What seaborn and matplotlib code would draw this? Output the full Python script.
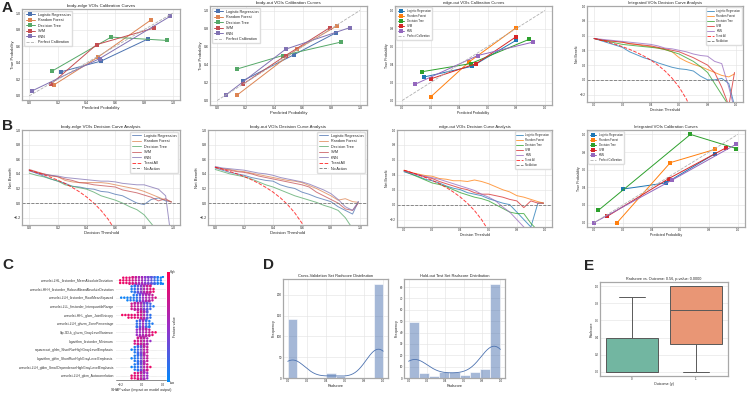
import numpy as np
import pandas as pd
import matplotlib
matplotlib.use("Agg")
import matplotlib.pyplot as plt
import seaborn as sns
from matplotlib.colors import LinearSegmentedColormap
from matplotlib.cm import ScalarMappable

W, H = 747, 394

models = ["Logistic Regression", "Random Forest", "Decision Tree", "SVM", "KNN"]

# ---- calibration curves (predicted prob, true prob) per model ----
cal_be_pred = [[0.22, 0.50, 0.83], [0.17, 0.48, 0.85], [0.16, 0.57, 0.96], [0.15, 0.47, 0.87], [0.02, 0.49, 0.98]]
cal_be_true = [[0.29, 0.42, 0.69], [0.13, 0.47, 0.92], [0.30, 0.71, 0.67], [0.14, 0.62, 0.82], [0.06, 0.45, 0.96]]
cal_bo_pred = [[0.18, 0.54, 0.83], [0.14, 0.56, 0.84], [0.14, 0.46, 0.87], [0.18, 0.48, 0.79], [0.06, 0.48, 0.93]]
cal_bo_true = [[0.22, 0.51, 0.75], [0.06, 0.57, 0.83], [0.35, 0.50, 0.65], [0.18, 0.50, 0.81], [0.06, 0.57, 0.81]]
cal_eo_pred = [[0.15, 0.49, 0.80], [0.20, 0.47, 0.80], [0.14, 0.48, 0.89], [0.20, 0.52, 0.80], [0.09, 0.53, 0.92]]
cal_eo_true = [[0.26, 0.38, 0.67], [0.04, 0.43, 0.81], [0.32, 0.41, 0.68], [0.24, 0.41, 0.71], [0.18, 0.50, 0.65]]
cal_int_pred = [[0.20, 0.50, 0.84], [0.16, 0.53, 0.84], [0.03, 0.67, 0.99], [0.09, 0.52, 0.92], [0.00, 0.54, 0.99]]
cal_int_true = [[0.38, 0.45, 0.78], [0.00, 0.68, 0.83], [0.14, 1.00, 0.84], [0.07, 0.50, 0.85], [0.00, 0.48, 0.89]]

# ---- decision curves: net benefit at thresholds ----
thr = [0.0, 0.05, 0.10, 0.15, 0.20, 0.25, 0.30, 0.35, 0.40, 0.45, 0.50,
       0.55, 0.60, 0.65, 0.70, 0.75, 0.80, 0.85, 0.90, 0.95, 0.99]
thr_all = [0.0, 0.05, 0.10, 0.15, 0.20, 0.25, 0.30, 0.35, 0.40, 0.45, 0.50, 0.55, 0.60, 0.65, 0.70]

dca_be = [
    [0.45, 0.41, 0.37, 0.33, 0.30, 0.27, 0.23, 0.22, 0.20, 0.19, 0.16, 0.15, 0.12, 0.10, 0.05, 0.00, -0.02, 0.05, 0.07, 0.03, 0.02],
    [0.45, 0.42, 0.40, 0.37, 0.36, 0.31, 0.29, 0.28, 0.28, 0.28, 0.28, 0.27, 0.25, 0.23, 0.21, 0.19, 0.16, 0.12, 0.08, 0.04, 0.02],
    [0.41, 0.38, 0.36, 0.33, 0.30, 0.25, 0.23, 0.21, 0.19, 0.15, 0.10, 0.07, 0.04, 0.00, -0.05, -0.09, -0.16, -0.28, -0.40, -0.50, -0.60],
    [0.46, 0.43, 0.40, 0.38, 0.36, 0.33, 0.31, 0.28, 0.27, 0.25, 0.24, 0.23, 0.22, 0.18, 0.16, 0.14, 0.11, 0.08, 0.03, 0.06, 0.01],
    [0.44, 0.41, 0.39, 0.38, 0.37, 0.35, 0.34, 0.33, 0.32, 0.31, 0.30, 0.30, 0.29, 0.27, 0.26, 0.25, 0.25, 0.22, 0.19, 0.10, -0.50],
]
all_be = [0.45, 0.421, 0.389, 0.353, 0.313, 0.267, 0.214, 0.154, 0.083, 0.0, -0.10, -0.222, -0.375, -0.571, -0.833]

dca_bo = [
    [0.48, 0.45, 0.42, 0.40, 0.38, 0.35, 0.33, 0.31, 0.30, 0.25, 0.22, 0.20, 0.15, 0.12, 0.08, 0.05, 0.02, -0.05, -0.10, -0.15, 0.02],
    [0.49, 0.47, 0.46, 0.44, 0.43, 0.41, 0.39, 0.37, 0.35, 0.33, 0.31, 0.30, 0.28, 0.24, 0.20, 0.15, 0.10, 0.04, 0.06, 0.02, 0.01],
    [0.46, 0.43, 0.40, 0.38, 0.36, 0.33, 0.29, 0.25, 0.22, 0.18, 0.14, 0.10, 0.07, 0.04, 0.01, -0.03, -0.06, -0.10, -0.20, -0.35, -0.50],
    [0.49, 0.47, 0.45, 0.43, 0.42, 0.40, 0.37, 0.35, 0.33, 0.31, 0.29, 0.27, 0.25, 0.22, 0.15, 0.10, 0.05, 0.00, -0.08, -0.10, 0.00],
    [0.50, 0.48, 0.47, 0.46, 0.45, 0.43, 0.41, 0.40, 0.38, 0.35, 0.33, 0.31, 0.29, 0.26, 0.22, 0.18, 0.13, 0.05, -0.05, -0.10, 0.02],
]
all_bo = [0.49, 0.463, 0.433, 0.40, 0.363, 0.32, 0.271, 0.215, 0.15, 0.073, -0.02, -0.133, -0.275, -0.457, -0.70]

dca_eo = [
    [0.44, 0.41, 0.38, 0.34, 0.32, 0.29, 0.25, 0.22, 0.20, 0.16, 0.14, 0.12, 0.08, 0.05, 0.02, 0.00, -0.10, -0.20, -0.30, 0.02, 0.02],
    [0.46, 0.43, 0.41, 0.39, 0.38, 0.35, 0.34, 0.32, 0.32, 0.31, 0.33, 0.31, 0.28, 0.24, 0.20, 0.17, 0.12, 0.10, 0.07, 0.04, 0.02],
    [0.45, 0.41, 0.37, 0.33, 0.29, 0.27, 0.24, 0.20, 0.16, 0.13, 0.10, 0.08, 0.05, 0.00, -0.05, -0.10, -0.12, -0.12, -0.25, -0.35, -0.50],
    [0.46, 0.43, 0.40, 0.37, 0.35, 0.31, 0.28, 0.25, 0.22, 0.20, 0.16, 0.14, 0.14, 0.12, 0.10, 0.07, 0.05, -0.04, 0.05, 0.02, 0.02],
    [0.45, 0.42, 0.40, 0.38, 0.36, 0.34, 0.31, 0.28, 0.25, 0.22, 0.19, 0.14, 0.10, 0.05, -0.03, -0.10, -0.20, -0.30, -0.40, -0.50, -0.60],
]
all_eo = [0.46, 0.432, 0.40, 0.365, 0.325, 0.28, 0.229, 0.169, 0.10, 0.018, -0.08, -0.20, -0.35, -0.54, -0.80]

dca_int = [
    [0.56, 0.53, 0.50, 0.47, 0.44, 0.38, 0.34, 0.30, 0.27, 0.23, 0.20, 0.17, 0.15, 0.14, 0.12, 0.05, 0.00, 0.00, 0.02, -0.05, -0.35],
    [0.56, 0.54, 0.53, 0.52, 0.51, 0.49, 0.48, 0.46, 0.45, 0.43, 0.41, 0.38, 0.30, 0.25, 0.21, 0.18, 0.14, 0.10, 0.06, 0.04, 0.08],
    [0.56, 0.54, 0.52, 0.50, 0.48, 0.47, 0.46, 0.45, 0.44, 0.43, 0.41, 0.38, 0.35, 0.30, 0.25, 0.18, 0.10, -0.05, -0.20, -0.35, -0.50],
    [0.56, 0.54, 0.53, 0.52, 0.51, 0.49, 0.48, 0.47, 0.46, 0.44, 0.42, 0.40, 0.38, 0.34, 0.30, 0.25, 0.20, 0.10, -0.10, -0.35, 0.10],
    [0.56, 0.55, 0.54, 0.53, 0.52, 0.51, 0.50, 0.49, 0.48, 0.46, 0.43, 0.42, 0.40, 0.38, 0.35, 0.33, 0.32, 0.25, 0.22, -0.10, -0.40],
]
all_int = [0.56, 0.537, 0.511, 0.482, 0.45, 0.413, 0.371, 0.323, 0.267, 0.20, 0.12, 0.022, -0.10, -0.257, -0.467]

# ---- SHAP summary ----
shap_features = [
    "wavelet-LHL_firstorder_MeanAbsoluteDeviation",
    "wavelet-HHH_firstorder_RobustMeanAbsoluteDeviation",
    "wavelet-LLH_firstorder_RootMeanSquared",
    "wavelet-LLL_firstorder_InterquartileRange",
    "wavelet-HHL_glcm_JointEntropy",
    "wavelet-LLH_glszm_ZonePercentage",
    "lbp-3D-k_glszm_GrayLevelVariance",
    "logarithm_firstorder_Minimum",
    "squareroot_glrlm_ShortRunHighGrayLevelEmphasis",
    "logarithm_glrlm_ShortRunHighGrayLevelEmphasis",
    "wavelet-LLH_gldm_SmallDependenceHighGrayLevelEmphasis",
    "wavelet-LLH_glcm_Autocorrelation",
]
shap_vals = [
    [-0.21, -0.18, -0.15, -0.12, -0.09, -0.06, -0.03, 0.0, 0.03, 0.06, 0.09, 0.12, 0.15, 0.18, 0.2],
    [-0.1, -0.07, -0.04, -0.01, 0.02, 0.05, 0.08, 0.11],
    [-0.2, -0.17, -0.14, -0.11, -0.08, -0.05, -0.02, 0.01, 0.04, 0.07, 0.1, 0.13],
    [-0.1, -0.07, -0.04, -0.01, 0.02, 0.05, 0.08, 0.11],
    [-0.19, -0.16, -0.13, -0.1, -0.07, -0.04, -0.01, 0.02, 0.05, 0.08],
    [-0.05, -0.02, 0.01, 0.04, 0.07, 0.1],
    [-0.05, -0.02, 0.01, 0.04, 0.07, 0.1, 0.13],
    [-0.07, -0.04, -0.01, 0.02, 0.05, 0.08],
    [-0.1, -0.07, -0.04, -0.01, 0.02, 0.05],
    [-0.1, -0.07, -0.04, -0.01, 0.02, 0.05],
    [-0.1, -0.07, -0.04, -0.01, 0.02, 0.05, 0.08],
    [-0.1, -0.07, -0.04, -0.01, 0.02, 0.05],
]
shap_counts = [
    [2, 3, 3, 4, 5, 6, 6, 6, 7, 7, 7, 6, 5, 4, 2],
    [3, 5, 6, 6, 7, 6, 5, 2],
    [1, 1, 2, 2, 3, 4, 5, 7, 7, 6, 3, 1],
    [3, 5, 6, 7, 7, 5, 3, 1],
    [1, 1, 2, 2, 2, 3, 6, 7, 5, 2],
    [4, 6, 7, 6, 4, 1],
    [3, 6, 7, 6, 4, 2, 1],
    [2, 5, 7, 7, 4, 1],
    [1, 3, 5, 6, 7, 3],
    [1, 3, 5, 7, 7, 3],
    [1, 3, 5, 6, 7, 4, 1],
    [2, 3, 4, 7, 7, 3],
]
shap_fvals = [
    [0.95, 0.9, 0.9, 0.85, 0.8, 0.7, 0.6, 0.55, 0.45, 0.4, 0.3, 0.2, 0.1, 0.05, 0.05],
    [0.1, 0.15, 0.3, 0.45, 0.6, 0.7, 0.8, 0.9],
    [0.05, 0.05, 0.05, 0.1, 0.1, 0.15, 0.3, 0.5, 0.6, 0.6, 0.7, 0.8],
    [0.75, 0.7, 0.65, 0.6, 0.4, 0.3, 0.2, 0.1],
    [0.95, 0.9, 0.9, 0.9, 0.85, 0.8, 0.75, 0.6, 0.3, 0.15],
    [0.15, 0.3, 0.55, 0.2, 0.1, 0.1],
    [0.5, 0.55, 0.6, 0.65, 0.7, 0.85, 0.95],
    [0.8, 0.75, 0.7, 0.65, 0.6, 0.5],
    [0.05, 0.1, 0.2, 0.4, 0.65, 0.7],
    [0.05, 0.1, 0.15, 0.35, 0.6, 0.7],
    [0.05, 0.1, 0.15, 0.35, 0.6, 0.75, 0.9],
    [0.9, 0.85, 0.8, 0.65, 0.55, 0.5],
]

# ---- radscore histograms (counts per bin) ----
cv_counts = [141, 1, 0, 0, 11, 5, 0, 0, 0, 227]
test_counts = [49, 4, 2, 5, 5, 3, 5, 8, 83]

# ---- boxplot samples ----
box_outcome0 = [0.0, 0.0, 0.0, 0.0, 0.0, 0.0, 0.0, 0.05, 0.2, 0.4, 0.5, 0.7, 0.87]
box_outcome1 = [0.0, 0.1, 0.2, 0.32, 0.45, 0.6, 0.72, 0.85, 0.95, 1.0, 1.0, 1.0, 1.0]

sns.set_theme(style="whitegrid")
plt.rcParams.update({
    "font.family": ["Liberation Sans", "DejaVu Sans"],
    "axes.edgecolor": "#a8a8a8",
    "axes.linewidth": 0.9,
    "grid.color": "#e2e2e2",
    "grid.linewidth": 0.4,
    "xtick.major.pad": 0.8,
    "ytick.major.pad": 0.8,
    "axes.titlepad": 1.5,
    "axes.labelpad": 0.8,
})

BIG = dict(title=3.2, label=3.0, tick=2.6, legend=2.7)
SMALL = dict(title=3.0, label=2.5, tick=2.2, legend=2.0)

fig = plt.figure(figsize=(W / 100, H / 100), dpi=100)


def rect(l, t, r, b):
    return [l / W, 1 - b / H, (r - l) / W, (b - t) / H]


def style_ax(ax, fs):
    ax.tick_params(labelsize=fs, length=0)
    for s in ax.spines.values():
        s.set_color("#a8a8a8")


def finish(ax, title, xlabel, ylabel, fs, loc):
    ax.set_title(title, fontsize=fs["title"])
    ax.set_xlabel(xlabel, fontsize=fs["label"])
    ax.set_ylabel(ylabel, fontsize=fs["label"])
    ax.legend(loc=loc, fontsize=fs["legend"], handlelength=2.4, borderpad=0.5,
              labelspacing=0.4, framealpha=1, edgecolor="#dddddd")
    style_ax(ax, fs["tick"])


def calib_panel(pos, title, preds, trues, colors, fs):
    ax = fig.add_axes(rect(*pos))
    for name, p, t, c in zip(models, preds, trues, colors):
        sns.lineplot(x=p, y=t, ax=ax, color=c, marker="s", markersize=2.2,
                     markeredgewidth=0, lw=0.7, label=name)
    ax.plot([0, 1], [0, 1], ls="--", color="#b0b0b0", lw=0.6, label="Perfect Calibration")
    ax.set_xlim(-0.05, 1.05)
    ax.set_ylim(-0.05, 1.05)
    ax.set_xticks([0, 0.2, 0.4, 0.6, 0.8, 1.0])
    ax.set_yticks([0, 0.2, 0.4, 0.6, 0.8, 1.0])
    finish(ax, title, "Predicted Probability", "True Probability", fs, "upper left")
    return ax


def dca_panel(pos, title, nbs, treat_all, colors, fs):
    ax = fig.add_axes(rect(*pos))
    for name, nb, c in zip(models, nbs, colors):
        sns.lineplot(x=thr, y=nb, ax=ax, color=c, lw=0.7, alpha=0.75, label=name)
    sns.lineplot(x=thr_all, y=treat_all, ax=ax, color="red", lw=0.7, alpha=0.75,
                 ls="--", label="Treat All")
    ax.axhline(0, color="#777777", lw=0.6, ls="--", label="No Action")
    ax.set_xlim(-0.05, 1.05)
    ax.set_ylim(-0.3, 1.0)
    ax.set_xticks([0, 0.2, 0.4, 0.6, 0.8, 1.0])
    ax.set_yticks([-0.2, 0, 0.2, 0.4, 0.6, 0.8, 1.0])
    finish(ax, title, "Decision Threshold", "Net Benefit", fs, "upper right")
    return ax


deep = sns.color_palette("deep")[:5]
tab = sns.color_palette("tab10")[:5]

# row A
calib_panel((22, 9, 180, 100), "body-edge VOIs Calibration Curves", cal_be_pred, cal_be_true, deep, BIG)
calib_panel((210, 6, 367, 105), "body-out VOIs Calibration Curves", cal_bo_pred, cal_bo_true, deep, BIG)
calib_panel((395, 6, 552, 105), "edge-out VOIs Calibration Curves", cal_eo_pred, cal_eo_true, tab, SMALL)
dca_panel((587, 6, 743, 102), "Integrated VOIs Decision Curve Analysis", dca_int, all_int, tab, SMALL)

# row B
dca_panel((22, 130, 180, 225), "body-edge VOIs Decision Curve Analysis", dca_be, all_be, deep, BIG)
dca_panel((208, 130, 367, 225), "body-out VOIs Decision Curve Analysis", dca_bo, all_bo, deep, BIG)
dca_panel((397, 130, 552, 227), "edge-out VOIs Decision Curve Analysis", dca_eo, all_eo, tab, SMALL)
calib_panel((587, 130, 745, 227), "Integrated VOIs Calibration Curves", cal_int_pred, cal_int_true, tab, SMALL)

# C: SHAP beeswarm
shap_cmap = LinearSegmentedColormap.from_list("shap", ["#008bfb", "#9a2fc8", "#ff0052"])
rows = []
for feat, v, n, f in zip(shap_features, shap_vals, shap_counts, shap_fvals):
    for val, cnt, fv in zip(v, n, f):
        for _ in range(cnt):
            rows.append((feat, val, fv))
shap_df = pd.DataFrame(rows, columns=["feature", "shap", "fval"])
pal = {fv: shap_cmap(fv) for fv in sorted(shap_df["fval"].unique())}

axc = fig.add_axes(rect(116, 276, 166, 380))
for i in range(len(shap_features)):
    axc.axhline(i, color="#cccccc", lw=0.4, dashes=(1, 1), zorder=0)
axc.axvline(0, color="#999999", lw=0.4, zorder=0)
sns.swarmplot(data=shap_df, x="shap", y="feature", hue="fval", palette=pal, order=shap_features,
              orient="h", size=1.8, linewidth=0, legend=False, ax=axc)
axc.grid(False)
axc.set_xlim(-0.25, 0.23)
axc.set_xticks([-0.2, 0.0, 0.2])
axc.set_ylabel("")
axc.set_xlabel("SHAP value (impact on model output)", fontsize=2.6)
axc.tick_params(axis="y", labelsize=2.4, length=0, labelcolor="#333333", pad=2)
axc.tick_params(axis="x", labelsize=2.2, length=1.2, width=0.4, color="#333333")
for s in ["top", "right", "left"]:
    axc.spines[s].set_visible(False)
axc.spines["bottom"].set_color("#333333")
axc.spines["bottom"].set_linewidth(0.4)

cax = fig.add_axes(rect(167, 272, 169.5, 382))
cb = fig.colorbar(ScalarMappable(cmap=shap_cmap), cax=cax, ticks=[0, 1])
cb.outline.set_visible(False)
cb.ax.set_yticklabels(["Low", "High"])
cb.ax.tick_params(labelsize=2.0, length=0, pad=0.5)
cb.set_label("Feature value", fontsize=2.4, labelpad=-2)


# D: radscore histograms
def radscore_hist(pos, counts, title):
    edges = np.linspace(0, 1, len(counts) + 1)
    centers = (edges[:-1] + edges[1:]) / 2
    data = np.repeat(centers, counts)
    ax = fig.add_axes(rect(*pos))
    sns.histplot(x=data, bins=edges, kde=True, ax=ax, color="#4c72b0", alpha=0.5,
                 edgecolor="white", linewidth=0.4,
                 kde_kws={"cut": 0.4, "clip": (0, 1)}, line_kws={"lw": 0.6})
    ax.set_title(title, fontsize=2.9)
    ax.set_xlabel("Radscore", fontsize=2.7)
    ax.set_ylabel("Frequency", fontsize=2.7)
    ax.set_xticks([0, 0.2, 0.4, 0.6, 0.8, 1.0])
    style_ax(ax, 2.2)
    return ax


radscore_hist((283, 279, 388, 378), cv_counts, "Cross-Validation Set Radscore Distribution")
radscore_hist((404, 279, 505, 378), test_counts, "Hold-out Test Set Radscore Distribution")

# E: boxplot
box_df = pd.DataFrame({
    "Outcome (y)": ["0"] * len(box_outcome0) + ["1"] * len(box_outcome1),
    "Radscore": box_outcome0 + box_outcome1,
})
axe = fig.add_axes(rect(600, 282, 728, 376))
sns.boxplot(data=box_df, x="Outcome (y)", y="Radscore", hue="Outcome (y)", palette="Set2",
            legend=False, linewidth=0.7, ax=axe)
axe.set_title("Radscore vs. Outcome: 0.56, p-value: 0.0000", fontsize=2.7)
axe.set_yticks([0, 0.2, 0.4, 0.6, 0.8, 1.0])
axe.xaxis.label.set_size(2.6)
axe.yaxis.label.set_size(2.6)
style_ax(axe, 2.1)

# panel letters
for letter, x, y in [("A", 2, 1), ("B", 2, 119), ("C", 2, 258), ("D", 263, 258), ("E", 584, 259)]:
    fig.text(x / W, 1 - y / H, letter, fontsize=11, fontweight="bold", va="top", ha="left")

fig.savefig("out.png", dpi=100)
